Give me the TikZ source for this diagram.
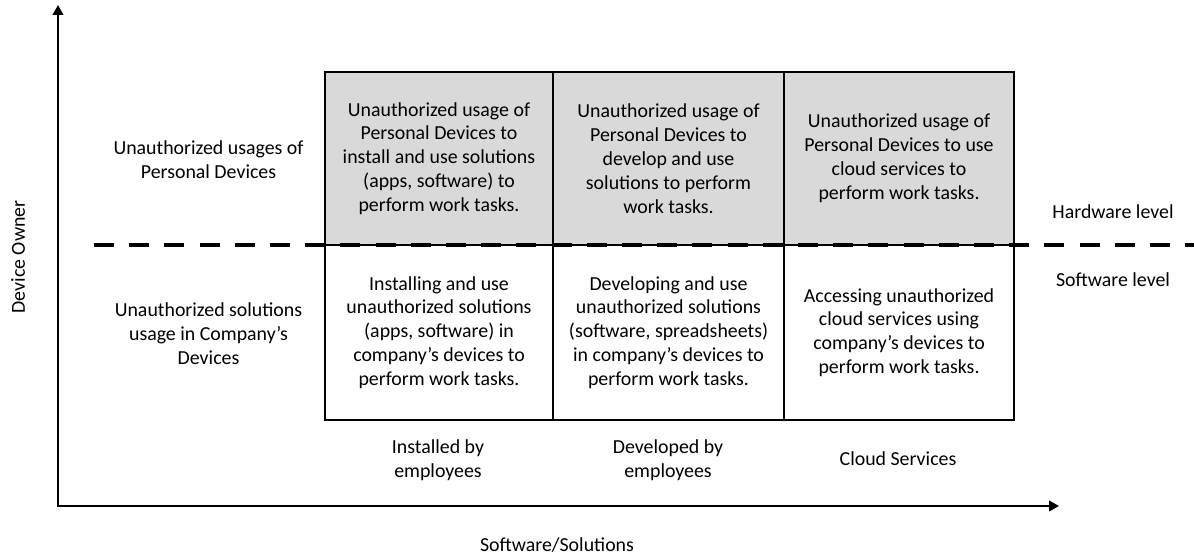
\documentclass[tikz,border=0pt]{standalone}
\usepackage{fontspec}
\setmainfont{Carlito}
\usetikzlibrary{arrows.meta}
\definecolor{cellgray}{RGB}{217,217,217}
\tikzset{
  cellbox/.style={draw=black, line width=1.1pt, inner sep=0pt, align=center, anchor=center},
  lbl/.style={inner sep=0pt, align=center, anchor=center},
  axisline/.style={line width=1.5pt, {Triangle[length=7.5pt,width=8pt]}-{Triangle[length=7.5pt,width=8pt]}},
  levelline/.style={line width=3.6pt, dash pattern=on 15pt off 11.4pt}
}
\begin{document}
\begin{tikzpicture}[x=0.75pt,y=-0.75pt]
\fontsize{14.9}{17.9}\selectfont
\useasboundingbox (0,0) rectangle (1194,556);
% cells, upper row
\node[cellbox, fill=cellgray, minimum width=171pt, minimum height=129.75pt] (u1) at (439,158.5)
  {Unauthorized usage of\\Personal Devices to\\install and use solutions\\(apps, software) to\\perform work tasks.};
\node[cellbox, fill=cellgray, minimum width=173.25pt, minimum height=129.75pt] (u2) at (668.5,158.5)
  {Unauthorized usage of\\Personal Devices to\\develop and use\\solutions to perform\\work tasks.};
\node[cellbox, fill=cellgray, minimum width=172.5pt, minimum height=129.75pt] (u3) at (899,158.5)
  {Unauthorized usage of\\Personal Devices to use\\cloud services to\\perform work tasks.};
% cells, lower row
\node[cellbox, minimum width=171pt, minimum height=131.25pt] (l1) at (439,332.5)
  {Installing and use\\unauthorized solutions\\(apps, software) in\\company’s devices to\\perform work tasks.};
\node[cellbox, minimum width=173.25pt, minimum height=131.25pt] (l2) at (668.5,332.5)
  {Developing and use\\unauthorized solutions\\(software, spreadsheets)\\in company’s devices to\\perform work tasks.};
\node[cellbox, minimum width=172.5pt, minimum height=131.25pt] (l3) at (899,332.5)
  {Accessing unauthorized\\cloud services using\\company’s devices to\\perform work tasks.};
% row labels
\node[lbl] (r1) at (208.5,160) {Unauthorized usages of\\Personal Devices};
\node[lbl] (r2) at (208.5,334) {Unauthorized solutions\\usage in Company’s\\Devices};
% column labels
\node[lbl] (c1) at (438,460) {Installed by\\employees};
\node[lbl] (c2) at (668,460) {Developed by\\employees};
\node[lbl] (c3) at (898,459) {Cloud Services};
% level labels
\node[lbl] (hw) at (1113,212) {Hardware level};
\node[lbl] (sw) at (1113,280) {Software level};
% axes
\coordinate (ytop) at (58,5);
\coordinate (O) at (58,506);
\coordinate (xend) at (1059,506);
\draw[axisline] (ytop) -- (O) -- (xend);
\node[lbl] (xl) at (557,545) {Software/Solutions};
\node[lbl, rotate=90] (yl) at (18,257) {Device Owner};
% dashed level line
\coordinate (d1) at (94,245);
\coordinate (d2) at (1194,245);
\draw[levelline] (d1) -- (d2);
\end{tikzpicture}
\end{document}
